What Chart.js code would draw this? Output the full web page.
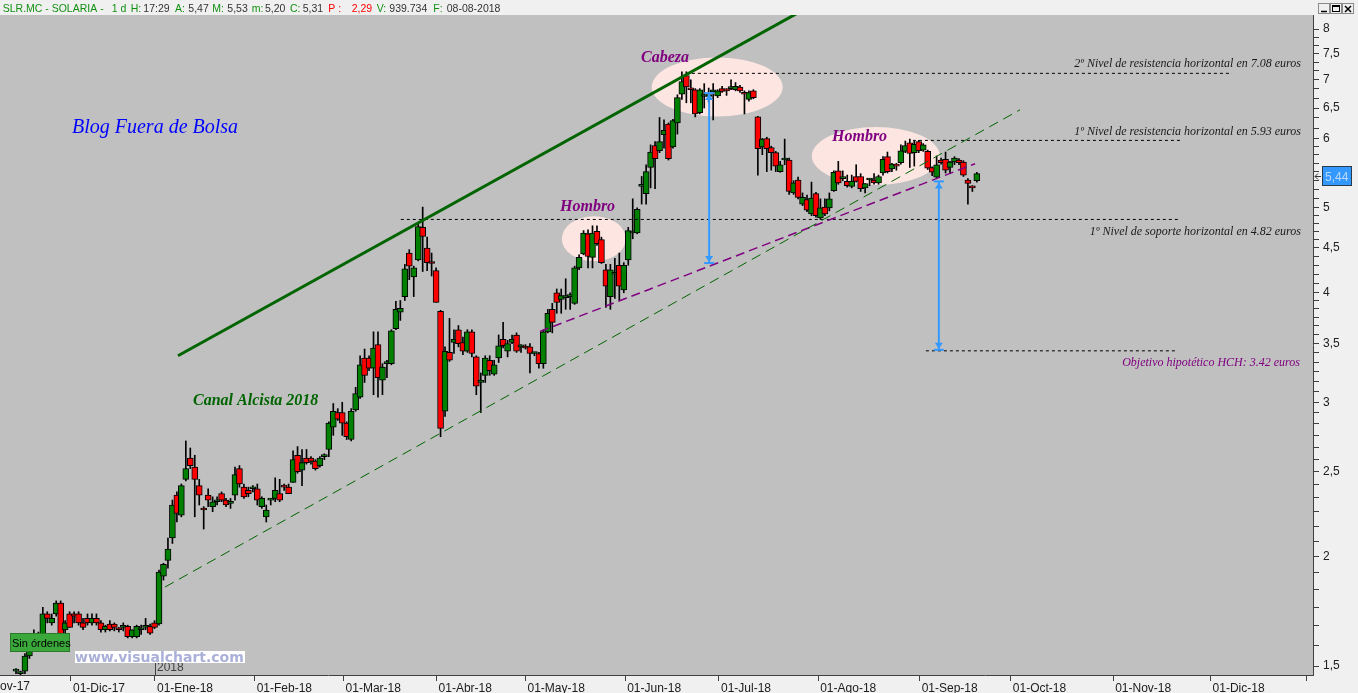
<!DOCTYPE html>
<html>
<head>
<meta charset="utf-8">
<script src="https://cdn.jsdelivr.net/npm/chart.js@4.4.1/dist/chart.umd.min.js"></script>
<style>
  html, body { margin: 0; padding: 0; background: #f0f0f0; overflow: hidden; }
  canvas { display: block; }
</style>
</head>
<body>
<canvas id="grafico" width="1358" height="693"></canvas>
<script>
// Sesiones diarias SLR.MC (una entrada por sesión)
const apertura = [
  1.48, 1.47, 1.48, 1.54, 1.58, 1.62, 1.61, 1.72, 1.68, 1.72,
  1.77, 1.65, 1.72, 1.72, 1.72, 1.68, 1.70, 1.68, 1.70, 1.68,
  1.65, 1.675, 1.675, 1.655, 1.66, 1.665, 1.62, 1.62, 1.65, 1.66,
  1.665, 1.68, 1.675, 1.90, 1.98, 2.10, 2.35, 2.23, 2.45, 2.59,
  2.53, 2.41, 2.27, 2.35, 2.28, 2.31, 2.36, 2.32, 2.30, 2.35,
  2.52, 2.40, 2.38, 2.39, 2.39, 2.28, 2.22, 2.32, 2.33, 2.36,
  2.41, 2.40, 2.43, 2.61, 2.51, 2.59, 2.59, 2.57, 2.54, 2.60,
  2.65, 2.81, 2.92, 2.92, 2.84, 2.72, 2.94, 3.04, 3.37, 3.37,
  3.28, 3.49, 3.18, 3.32, 3.32, 3.64, 3.80, 3.96, 4.44, 4.17,
  4.36, 4.75, 4.50, 4.34, 4.24, 3.81, 2.93, 3.42, 3.51, 3.63,
  3.51, 3.43, 3.61, 3.38, 3.16, 3.22, 3.35, 3.23, 3.37, 3.54,
  3.43, 3.51, 3.58, 3.47, 3.47, 3.47, 3.41, 3.41, 3.32, 3.61,
  3.83, 4.00, 3.93, 3.95, 3.96, 3.89, 4.27, 4.43, 4.67, 4.39,
  4.70, 4.60, 4.25, 3.96, 4.20, 4.30, 4.03, 4.36, 4.68, 4.68,
  5.29, 5.19, 5.56, 5.89, 5.81, 6.06, 6.23, 5.87, 6.25, 6.74,
  7.08, 6.83, 6.82, 6.42, 6.70, 6.70, 6.78, 6.71, 6.84, 6.82,
  6.84, 6.82, 6.87, 6.77, 6.65, 6.80, 6.35, 5.87, 6.00, 5.86,
  5.78, 5.50, 5.67, 5.67, 5.20, 5.38, 5.05, 5.11, 4.92, 5.19,
  4.87, 5.01, 5.00, 5.23, 5.51, 5.40, 5.36, 5.29, 5.43, 5.43,
  5.27, 5.38, 5.38, 5.34, 5.48, 5.72, 5.54, 5.61, 5.63, 5.80,
  5.93, 5.78, 5.95, 5.82, 5.80, 5.56, 5.42, 5.67, 5.68, 5.56,
  5.64, 5.67, 5.64, 5.38, 5.28, 5.37
];
const maximo = [
  1.49, 1.48, 1.55, 1.59, 1.65, 1.64, 1.75, 1.73, 1.72, 1.78,
  1.78, 1.69, 1.73, 1.73, 1.73, 1.70, 1.72, 1.72, 1.72, 1.69,
  1.67, 1.69, 1.68, 1.66, 1.68, 1.67, 1.65, 1.67, 1.67, 1.70,
  1.675, 1.69, 1.93, 1.965, 2.10, 2.32, 2.37, 2.42, 2.71, 2.66,
  2.61, 2.45, 2.28, 2.39, 2.34, 2.34, 2.37, 2.33, 2.33, 2.53,
  2.54, 2.42, 2.40, 2.41, 2.42, 2.34, 2.29, 2.33, 2.46, 2.45,
  2.42, 2.42, 2.64, 2.67, 2.65, 2.65, 2.60, 2.58, 2.60, 2.62,
  2.85, 2.99, 2.95, 3.00, 2.85, 2.95, 3.12, 3.39, 3.45, 3.39,
  3.61, 3.61, 3.32, 3.35, 3.63, 3.91, 3.92, 4.31, 4.48, 4.29,
  4.81, 5.01, 4.63, 4.44, 4.27, 3.82, 3.47, 3.74, 3.63, 3.67,
  3.56, 3.63, 3.63, 3.39, 3.24, 3.39, 3.39, 3.35, 3.58, 3.70,
  3.53, 3.58, 3.60, 3.49, 3.49, 3.50, 3.42, 3.42, 3.63, 3.83,
  3.89, 4.04, 4.04, 4.15, 4.00, 4.29, 4.42, 4.71, 4.72, 4.77,
  4.77, 4.63, 4.31, 4.31, 4.38, 4.44, 4.33, 4.75, 5.12, 5.00,
  5.43, 5.60, 5.90, 5.95, 6.34, 6.30, 6.25, 6.31, 6.73, 7.15,
  7.15, 7.00, 6.84, 6.84, 6.93, 6.85, 6.93, 6.82, 6.88, 6.84,
  7.00, 6.95, 6.90, 6.80, 6.80, 6.82, 6.36, 6.00, 6.02, 5.88,
  5.80, 5.65, 5.99, 5.70, 5.37, 5.42, 5.20, 5.17, 5.35, 5.21,
  5.12, 5.12, 5.20, 5.51, 5.65, 5.51, 5.45, 5.45, 5.60, 5.47,
  5.33, 5.40, 5.47, 5.45, 5.72, 5.79, 5.62, 5.62, 5.90, 5.96,
  5.99, 5.96, 5.97, 5.92, 5.82, 5.57, 5.73, 5.70, 5.79, 5.65,
  5.72, 5.69, 5.66, 5.40, 5.30, 5.49
];
const minimo = [
  1.47, 1.46, 1.47, 1.53, 1.56, 1.58, 1.59, 1.68, 1.67, 1.71,
  1.57, 1.63, 1.66, 1.68, 1.67, 1.65, 1.67, 1.67, 1.67, 1.64,
  1.64, 1.645, 1.645, 1.64, 1.645, 1.615, 1.615, 1.615, 1.63, 1.65,
  1.63, 1.655, 1.67, 1.88, 1.94, 2.07, 2.19, 2.22, 2.44, 2.52,
  2.22, 2.29, 2.15, 2.28, 2.25, 2.29, 2.31, 2.28, 2.27, 2.32,
  2.40, 2.33, 2.34, 2.37, 2.29, 2.27, 2.19, 2.29, 2.31, 2.31,
  2.38, 2.36, 2.43, 2.49, 2.41, 2.55, 2.55, 2.51, 2.53, 2.58,
  2.60, 2.75, 2.86, 2.75, 2.72, 2.71, 2.93, 3.03, 3.16, 3.26,
  3.06, 3.04, 3.06, 3.20, 3.31, 3.63, 3.72, 3.92, 4.14, 3.96,
  4.35, 4.23, 4.24, 4.18, 3.90, 2.74, 2.89, 3.34, 3.41, 3.47,
  3.40, 3.42, 3.38, 3.06, 2.92, 3.16, 3.22, 3.22, 3.33, 3.46,
  3.38, 3.50, 3.42, 3.42, 3.45, 3.24, 3.39, 3.28, 3.28, 3.60,
  3.60, 3.79, 3.79, 3.83, 3.83, 3.88, 4.25, 4.42, 4.27, 4.27,
  4.53, 4.32, 3.85, 3.83, 3.94, 3.92, 4.00, 4.30, 4.61, 4.67,
  5.05, 5.05, 5.27, 5.26, 5.78, 5.85, 5.67, 5.85, 6.07, 6.65,
  6.59, 6.59, 6.35, 6.40, 6.50, 6.60, 6.30, 6.68, 6.77, 6.72,
  6.82, 6.80, 6.77, 6.40, 6.62, 6.66, 5.45, 5.75, 5.50, 5.52,
  5.50, 5.49, 5.60, 5.18, 5.18, 5.12, 5.03, 4.95, 4.90, 4.88,
  4.85, 4.90, 4.96, 5.22, 5.32, 5.37, 5.28, 5.27, 5.35, 5.22,
  5.20, 5.30, 5.32, 5.32, 5.45, 5.48, 5.50, 5.52, 5.61, 5.78,
  5.56, 5.58, 5.78, 5.80, 5.53, 5.44, 5.40, 5.61, 5.48, 5.47,
  5.60, 5.60, 5.43, 5.05, 5.22, 5.35
];
const cierre = [
  1.48, 1.47, 1.54, 1.57, 1.62, 1.60, 1.72, 1.70, 1.70, 1.77,
  1.58, 1.68, 1.66, 1.71, 1.68, 1.66, 1.68, 1.70, 1.68, 1.65,
  1.665, 1.65, 1.66, 1.65, 1.66, 1.62, 1.65, 1.665, 1.65, 1.665,
  1.635, 1.66, 1.92, 1.96, 2.04, 2.29, 2.24, 2.41, 2.52, 2.54,
  2.45, 2.35, 2.26, 2.32, 2.31, 2.32, 2.32, 2.29, 2.30, 2.48,
  2.42, 2.34, 2.36, 2.39, 2.32, 2.33, 2.26, 2.32, 2.38, 2.32,
  2.40, 2.36, 2.58, 2.50, 2.56, 2.56, 2.57, 2.52, 2.59, 2.61,
  2.84, 2.93, 2.87, 2.84, 2.74, 2.93, 3.07, 3.31, 3.22, 3.28,
  3.46, 3.20, 3.29, 3.33, 3.62, 3.83, 3.84, 4.26, 4.29, 4.27,
  4.76, 4.64, 4.33, 4.32, 3.90, 2.80, 3.43, 3.35, 3.54, 3.50,
  3.43, 3.61, 3.41, 3.13, 3.18, 3.37, 3.26, 3.31, 3.48, 3.48,
  3.50, 3.54, 3.43, 3.47, 3.46, 3.41, 3.41, 3.32, 3.61, 3.79,
  3.70, 3.90, 3.97, 3.96, 3.96, 4.27, 4.39, 4.68, 4.40, 4.68,
  4.55, 4.33, 4.07, 4.25, 4.22, 4.07, 4.30, 4.71, 4.69, 4.98,
  5.30, 5.50, 5.79, 5.69, 5.95, 6.13, 5.69, 6.29, 6.68, 6.97,
  6.87, 6.82, 6.40, 6.82, 6.71, 6.71, 6.82, 6.80, 6.79, 6.80,
  6.84, 6.88, 6.80, 6.74, 6.77, 6.68, 5.84, 5.99, 5.84, 5.78,
  5.58, 5.60, 5.67, 5.22, 5.34, 5.14, 5.14, 4.97, 5.13, 4.90,
  5.00, 4.92, 5.12, 5.49, 5.34, 5.40, 5.30, 5.36, 5.36, 5.26,
  5.33, 5.38, 5.34, 5.43, 5.68, 5.50, 5.61, 5.58, 5.81, 5.89,
  5.77, 5.91, 5.81, 5.90, 5.55, 5.49, 5.60, 5.63, 5.52, 5.64,
  5.70, 5.63, 5.45, 5.33, 5.27, 5.47
];

// eje de tiempo (en sesiones) y eje de precios
const etiquetasMes = ['01-Dic-17', '01-Ene-18', '01-Feb-18', '01-Mar-18', '01-Abr-18', '01-May-18',
  '01-Jun-18', '01-Jul-18', '01-Ago-18', '01-Sep-18', '01-Oct-18', '01-Nov-18', '01-Dic-18', ''];
const sesionMes = [12.3, 31.1, 53.4, 73.3, 94.1, 114.0, 136.3, 157.3, 179.5, 202.2, 222.6, 245.5, 267.3, 288.8];
const etiquetaPrevia = '01-Nov-17';
const sesionPrevia = -9.85;
const preciosEje = [1.5, 2, 2.5, 3, 3.5, 4, 4.5, 5, 5.5, 6, 6.5, 7, 7.5, 8];
const ultimoPrecio = 5.44;

// lineas del analisis
const canalSuperior = [{x: 36.25, y: 3.39}, {x: 176.5, y: 8.43}];
const canalInferior = [{x: 33.34, y: 1.846}, {x: 224.66, y: 6.47}];
const lineaHombros = [{x: 117.25, y: 3.613}, {x: 214.6, y: 5.615}];
const niveles = [7.12, 5.97, 4.85, 3.434];
const nivelDesde = [149.9, 200.7, 86.1, 203.6];
const nivelHasta = [272.1, 260.5, 260.0, 259.3];

const colorVela = (i) => cierre[i] >= apertura[i] ? '#008000' : '#ff0000';

const sans = "'Liberation Sans', Arial, sans-serif";
const serif = "'Liberation Serif', 'Times New Roman', serif";

function flecha(ctx, x, yTop, yBot) {
  ctx.strokeStyle = '#3399ff';
  ctx.fillStyle = '#3399ff';
  ctx.lineWidth = 2;
  ctx.beginPath(); ctx.moveTo(x, yTop); ctx.lineTo(x, yBot); ctx.stroke();
  [[yTop, 1], [yBot, -1]].forEach(([y, d]) => {
    ctx.beginPath(); ctx.moveTo(x - 5, y); ctx.lineTo(x + 5, y); ctx.stroke();
    ctx.beginPath(); ctx.moveTo(x, y + d); ctx.lineTo(x - 4, y + 7 * d); ctx.lineTo(x + 4, y + 7 * d); ctx.closePath(); ctx.fill();
  });
}

const dibujo = {
  id: 'dibujo',
  beforeDraw(chart) {
    const {ctx, chartArea: a} = chart;
    ctx.save();
    ctx.fillStyle = '#f0f0f0';
    ctx.fillRect(0, 0, chart.width, chart.height);
    ctx.fillStyle = '#c0c0c0';
    ctx.fillRect(a.left, a.top, a.right - a.left, a.bottom - a.top);
    ctx.restore();
  },
  beforeDatasetsDraw(chart) {
    const {ctx, chartArea: a, scales: {x, y}} = chart;
    ctx.save();
    ctx.beginPath(); ctx.rect(a.left, a.top, a.right - a.left, a.bottom - a.top); ctx.clip();
    ctx.fillStyle = '#fde5e2';
    [[129.3, 4.61, 32, 22.5], [156.9, 6.87, 65.5, 29.5], [192.4, 5.73, 64, 29]].forEach(([cx, cy, rx, ry]) => {
      ctx.beginPath();
      ctx.ellipse(x.getPixelForValue(cx), y.getPixelForValue(cy), rx, ry, 0, 0, Math.PI * 2);
      ctx.fill();
    });
    ctx.restore();
  },
  afterDatasetsDraw(chart) {
    const {ctx, scales: {x, y}} = chart;
    ctx.save();
    flecha(ctx, x.getPixelForValue(155.1), y.getPixelForValue(6.76), y.getPixelForValue(4.325));
    flecha(ctx, x.getPixelForValue(206.5), y.getPixelForValue(5.36), y.getPixelForValue(3.443));

    ctx.textBaseline = 'alphabetic';
    ctx.textAlign = 'left';
    ctx.fillStyle = '#0000ff';
    ctx.font = 'italic 20px ' + serif;
    ctx.fillText('Blog Fuera de Bolsa', 72, 133);
    ctx.fillStyle = '#006400';
    ctx.font = 'italic bold 16px ' + serif;
    ctx.fillText('Canal Alcista 2018', 193, 405);
    ctx.fillStyle = '#800080';
    ctx.fillText('Cabeza', 641, 62);
    ctx.fillText('Hombro', 560, 211);
    ctx.fillText('Hombro', 832, 141);

    ctx.textAlign = 'right';
    ctx.font = 'italic 12px ' + serif;
    ctx.fillStyle = '#1a1a1a';
    ctx.fillText('2º Nivel de resistencia horizontal en 7.08 euros', 1301, 67);
    ctx.fillText('1º Nivel de resistencia horizontal en 5.93 euros', 1301, 135);
    ctx.fillText('1º Nivel de soporte horizontal en 4.82 euros', 1301, 235);
    ctx.fillStyle = '#800080';
    ctx.fillText('Objetivo hipotético HCH: 3.42 euros', 1300, 366);
    ctx.restore();
  },
  afterDraw(chart) {
    const {ctx, scales: {x, y}} = chart;
    ctx.save();
    // cabecera
    ctx.fillStyle = '#f0f0f0';
    ctx.fillRect(0, 0, 1312, 15);
    ctx.font = '10.5px ' + sans;
    ctx.textBaseline = 'alphabetic';
    ctx.textAlign = 'left';
    const verde = '#109010', oscuro = '#333333', rojo = '#ff0000';
    [['SLR.MC - SOLARIA -', 2.7, verde], ['1 d', 111.7, verde], ['H:', 130.7, verde], ['17:29', 143.3, oscuro],
     ['A:', 175, verde], ['5,47', 188.3, oscuro], ['M:', 212.3, verde], ['5,53', 227.3, oscuro],
     ['m:', 251.7, verde], ['5,20', 265, oscuro], ['C:', 290, verde], ['5,31', 302.7, oscuro],
     ['P :', 328.3, rojo], ['2,29', 351.7, rojo], ['V:', 376.7, verde], ['939.734', 389.3, oscuro],
     ['F:', 433.3, verde], ['08-08-2018', 446.7, oscuro]].forEach(([t, px, c]) => {
      ctx.fillStyle = c; ctx.fillText(t, px, 12);
    });
    // botones de ventana
    ctx.strokeStyle = '#8a8a8a'; ctx.lineWidth = 1;
    [1318, 1330, 1342].forEach((bx) => { ctx.strokeRect(bx + 0.5, 3.5, 11, 10); });
    ctx.strokeStyle = '#000'; ctx.lineWidth = 1.5;
    ctx.beginPath(); ctx.moveTo(1321, 11.5); ctx.lineTo(1327, 11.5); ctx.stroke();
    ctx.lineWidth = 1;
    ctx.strokeRect(1332.5, 5.5, 7, 6);
    ctx.beginPath(); ctx.moveTo(1332, 6.5); ctx.lineTo(1340, 6.5); ctx.stroke();
    ctx.lineWidth = 1.5;
    ctx.beginPath(); ctx.moveTo(1345, 6); ctx.lineTo(1351, 12); ctx.moveTo(1351, 6); ctx.lineTo(1345, 12); ctx.stroke();

    // mes anterior, cortado por el borde
    ctx.fillStyle = '#202020';
    ctx.font = '12px ' + sans;
    ctx.textBaseline = 'top';
    ctx.fillText(etiquetaPrevia, x.getPixelForValue(sesionPrevia) + 2, x.top + 6);
    ctx.textBaseline = 'alphabetic';

    // etiqueta de ultimo precio
    const py = Math.round(y.getPixelForValue(ultimoPrecio));
    ctx.fillStyle = '#f0f0f0';
    ctx.fillRect(1320, py - 12, 36, 24);
    ctx.fillStyle = '#3399ff';
    ctx.fillRect(1322, py - 10, 30, 20);
    ctx.strokeStyle = '#2b3b4b'; ctx.lineWidth = 1;
    ctx.strokeRect(1322.5, py - 9.5, 29, 19);
    ctx.fillStyle = '#bcd8f8';
    ctx.font = '12px ' + sans;
    ctx.fillText('5,44', 1325, py + 5);
    ctx.strokeStyle = '#333';
    ctx.beginPath(); ctx.moveTo(1315, py + 0.5); ctx.lineTo(1321, py + 0.5);
    ctx.moveTo(1318, py - 2.5); ctx.lineTo(1315, py + 0.5); ctx.lineTo(1318, py + 3.5); ctx.stroke();

    // marca de año
    ctx.strokeStyle = '#404040';
    ctx.beginPath(); ctx.moveTo(155.5, 660); ctx.lineTo(155.5, 675); ctx.stroke();
    ctx.fillStyle = '#404040';
    ctx.font = '12px ' + sans;
    ctx.fillText('2018', 157, 671);

    // sin ordenes
    ctx.fillStyle = '#3aa83a';
    ctx.fillRect(10, 633, 60, 19);
    ctx.strokeStyle = '#2a7a2a';
    ctx.strokeRect(10.5, 633.5, 59, 18);
    ctx.fillStyle = '#000';
    ctx.font = '11px ' + sans;
    ctx.fillText('Sin órdenes', 12, 647);

    // marca de agua
    ctx.fillStyle = '#ffffff';
    ctx.fillRect(75, 651, 170, 12);
    ctx.fillStyle = '#aab0d8';
    ctx.font = "bold 14px 'DejaVu Sans', Verdana, sans-serif";
    ctx.fillText('www.visualchart.com', 75, 662);
    ctx.restore();
  }
};

new Chart(document.getElementById('grafico'), {
  type: 'bar',
  data: {
    datasets: [
      {
        type: 'line', data: canalSuperior, borderColor: '#006400', borderWidth: 3,
        pointRadius: 0, fill: false, order: 0, clip: 0
      },
      {
        type: 'line', data: canalInferior, borderColor: '#006400', borderWidth: 1, borderDash: [10, 6],
        pointRadius: 0, fill: false, order: 0, clip: 0
      },
      {
        type: 'line', data: lineaHombros, borderColor: '#800080', borderWidth: 1.5, borderDash: [9, 5],
        pointRadius: 0, fill: false, order: 0, clip: 0
      },
      ...niveles.map((v, i) => ({
        type: 'line', data: [{x: nivelDesde[i], y: v}, {x: nivelHasta[i], y: v}],
        borderColor: '#000', borderWidth: 1, borderDash: [3, 3], pointRadius: 0, fill: false, order: 0, clip: 0
      })),
      {
        // cuerpos de las velas
        data: apertura.map((o, i) => ({x: i, y: [o, cierre[i]]})),
        backgroundColor: (c) => colorVela(c.dataIndex),
        borderColor: '#000', borderWidth: 1, borderSkipped: false,
        barThickness: 6, minBarLength: 2, grouped: false, order: 1
      },
      {
        // mechas
        data: minimo.map((l, i) => ({x: i, y: [l, maximo[i]]})),
        backgroundColor: '#000', borderWidth: 0,
        barThickness: 1, grouped: false, order: 2
      }
    ]
  },
  options: {
    responsive: false,
    animation: false,
    events: [],
    layout: {padding: {top: 15, left: 0, right: 0, bottom: 0}},
    plugins: {legend: {display: false}, tooltip: {enabled: false}},
    scales: {
      x: {
        type: 'linear', offset: false,
        min: -3.58, max: 290.22,
        afterBuildTicks: (s) => { s.ticks = sesionMes.map((v) => ({value: v})); },
        afterFit: (s) => { s.height = 18; s.paddingLeft = 0; s.paddingRight = 0; },
        ticks: {
          autoSkip: false, maxRotation: 0, align: 'start', labelOffset: 2, padding: 0,
          color: '#202020', font: {family: sans, size: 12},
          callback: (v, i) => etiquetasMes[i]
        },
        grid: {drawOnChartArea: false, offset: false, tickLength: 6, color: '#404040'},
        border: {color: '#404040', width: 1}
      },
      y: {
        type: 'logarithmic', position: 'right', bounds: 'data', beginAtZero: false,
        min: 1.465, max: 8.30,
        afterBuildTicks: (s) => {
          const t = [];
          preciosEje.forEach((a, i) => {
            t.push({value: a});
            const b = preciosEje[i + 1];
            if (b === undefined) return;
            const n = Math.min(6, Math.floor(Math.log(b / a) * 380 / 8));
            for (let j = 1; j < n; j++) t.push({value: a + (b - a) * j / n});
          });
          s.ticks = t;
        },
        afterFit: (s) => { s.width = 45; s.paddingTop = 0; s.paddingBottom = 0; },
        ticks: {
          autoSkip: false, padding: 4, color: '#202020', font: {family: sans, size: 12},
          callback: (v) => preciosEje.includes(v) ? String(v).replace('.', ',') : ''
        },
        grid: {drawOnChartArea: false, tickLength: 6, color: '#404040'},
        border: {color: '#404040', width: 1}
      }
    }
  },
  plugins: [dibujo]
});
</script>
</body>
</html>
